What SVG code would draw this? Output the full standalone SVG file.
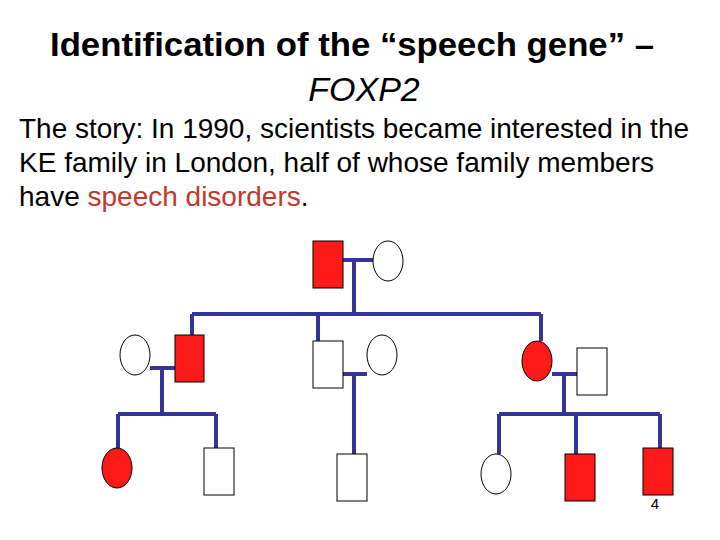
<svg xmlns="http://www.w3.org/2000/svg" width="720" height="540" viewBox="0 0 720 540">
<style>
text{font-family:"Liberation Sans",Arial,sans-serif;fill:#000}
.l{stroke:#333399;stroke-width:4;fill:none}
.r{fill:#ff1a1a;stroke:#000;stroke-width:1}
.w{fill:#fff;stroke:#000;stroke-width:1}
</style>
<rect width="720" height="540" fill="#fff"/>
<text x="352" y="56" font-size="33" font-weight="bold" text-anchor="middle" textLength="604" lengthAdjust="spacingAndGlyphs">Identification of the “speech gene” –</text>
<text x="364" y="101" font-size="34" font-style="italic" text-anchor="middle">FOXP2</text>
<text x="19" y="138" font-size="28" textLength="670" lengthAdjust="spacingAndGlyphs">The story: In 1990, scientists became interested in the</text>
<text x="19" y="172" font-size="28">KE family in London, half of whose family members</text>
<text x="19" y="206" font-size="28">have <tspan fill="#c0392b">speech disorders</tspan>.</text>
<text x="655" y="509" font-size="15" text-anchor="middle">4</text>
<g id="connectors" class="l">
<path d="M343 260H373M354 260V314M192 314H541M192 314V335M318 314V341M541 314V341"/>
<path d="M150 368H175M162 368V414M118 414H216M118 414V448M216 414V448"/>
<path d="M343 374H367M354 374V454"/>
<path d="M552 374H577M564 374V414M499 414H660M499 414V454M576 414V454M660 414V448"/>
</g>
<g id="g1m"><rect class="r" x="313" y="241" width="30" height="47"/></g>
<g id="g1f"><ellipse class="w" cx="388" cy="261" rx="15" ry="20"/></g>
<g id="g2a"><rect class="r" x="175" y="335" width="29" height="47"/></g>
<g id="g2aw"><ellipse class="w" cx="135" cy="355" rx="15" ry="20"/></g>
<g id="g2b"><rect class="w" x="313" y="341" width="30" height="47"/></g>
<g id="g2bw"><ellipse class="w" cx="382" cy="355" rx="15" ry="20"/></g>
<g id="g2c"><ellipse class="r" cx="537" cy="361" rx="15" ry="20"/></g>
<g id="g2ch"><rect class="w" x="577" y="348" width="30" height="47"/></g>
<g id="g3a"><ellipse class="r" cx="117" cy="468" rx="15" ry="20"/></g>
<g id="g3b"><rect class="w" x="204" y="448" width="30" height="47"/></g>
<g id="g3c"><rect class="w" x="337" y="454" width="30" height="47"/></g>
<g id="g3d"><ellipse class="w" cx="496" cy="474" rx="15" ry="20"/></g>
<g id="g3e"><rect class="r" x="565" y="454" width="30" height="47"/></g>
<g id="g3f"><rect class="r" x="643" y="448" width="30" height="47"/></g>
</svg>
